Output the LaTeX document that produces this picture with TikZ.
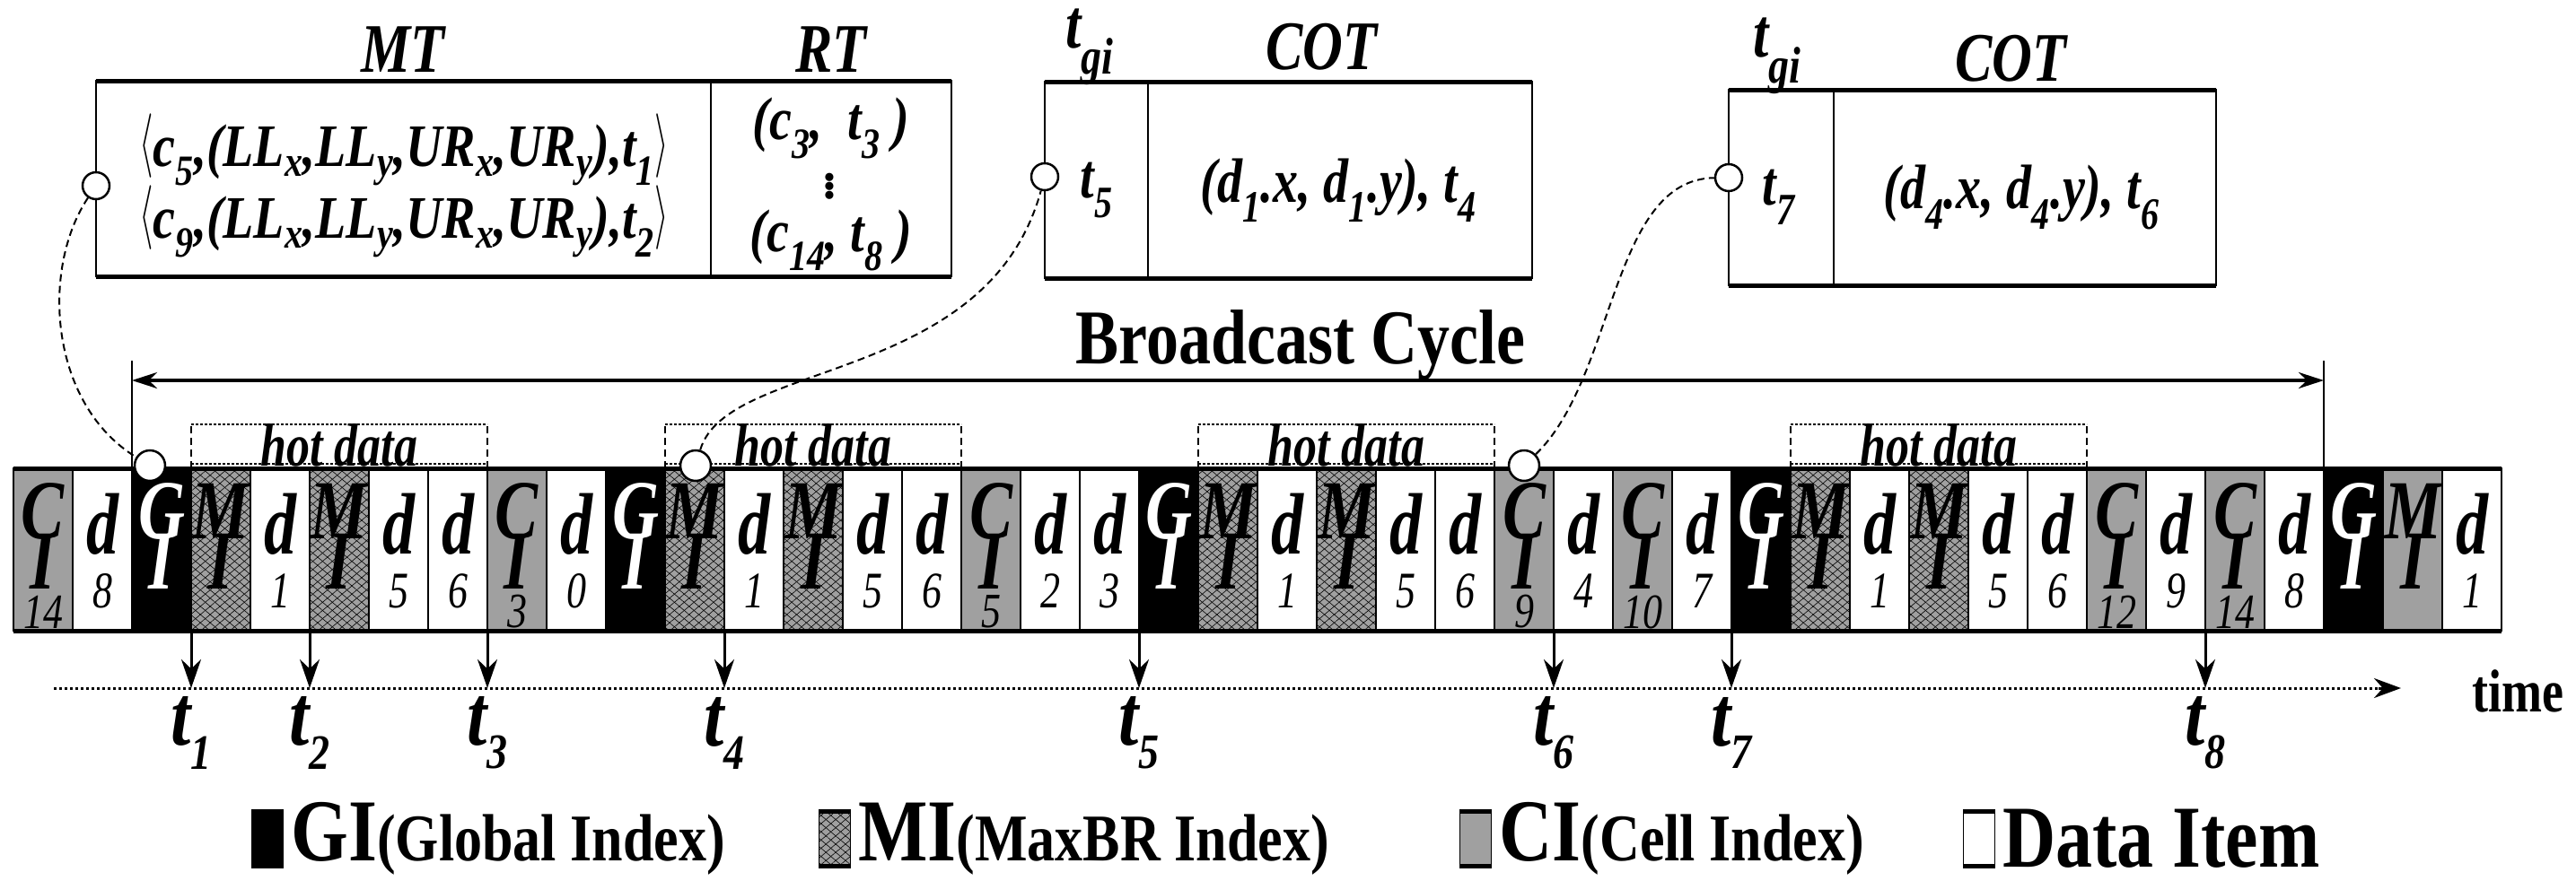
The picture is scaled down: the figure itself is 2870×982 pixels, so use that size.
\documentclass[tikz,border=0pt]{standalone}
\usepackage{fontspec}
\usepackage{graphicx}
\setmainfont{Liberation Serif}
\usetikzlibrary{calc,arrows.meta,patterns.meta}
\newcommand\myfs[1]{\fontsize{#1}{#1}\selectfont}
\newcommand\tall[2]{\scalebox{1}[#1]{#2}}
\definecolor{cigray}{HTML}{A0A0A0}
\tikzset{
 cell/.style={draw, line width=1.5pt, minimum width=66pt, minimum height=181pt, anchor=north west, inner sep=0pt, outer sep=0pt},
 dt/.style={cell, fill=white},
 gi/.style={cell, fill=black},
 ci/.style={cell, fill=cigray},
 mi/.style={cell, fill=cigray, postaction={pattern={Lines[angle=40,distance=7pt,line width=0.6pt]}}, postaction={pattern={Lines[angle=-40,distance=7pt,line width=0.6pt]}}},
 lt/.style={inner sep=0pt, font=\myfs{72}\bfseries\itshape},
 nm/.style={inner sep=0pt, font=\myfs{44}\itshape},
 tbl/.style={draw, line width=2pt, inner sep=0pt, outer sep=0pt},
 hd/.style={inner sep=0pt, font=\myfs{62}\bfseries\itshape},
 tx/.style={inner sep=0pt, font=\myfs{56}\bfseries\itshape},
 pinc/.style={circle, draw, line width=2.5pt, fill=white, minimum size=34pt, inner sep=0pt},
 link/.style={line width=2pt, dash pattern=on 8pt off 5pt},
 tarrow/.style={line width=3pt, -{Stealth[length=32pt,width=22pt]}},
 tl/.style={inner sep=0pt, font=\myfs{80}\bfseries\itshape},
 hot/.style={inner sep=0pt, font=\myfs{52}\bfseries\itshape},
 leg/.style={line width=1.5pt, draw, minimum width=35pt, minimum height=59pt, inner sep=0pt},
}
\newcommand\mkd[2]{\node[dt] (c#1) at ({15+66*(#1-1)},522) {};
 \node[lt] at ($(c#1.north)+(0,62)$) {\tall{1.35}{d}};
 \node[nm] at ($(c#1.north)+(0,137)$) {\tall{1.3}{#2}};}
\newcommand\mki[6]{\node[#2] (c#1) at ({15+66*(#1-1)},522) {};
 \node[lt,text=#6] at ($(c#1.north)+(0,48)$) {\tall{1.3}{#3}};
 \node[lt,text=#6] at ($(c#1.north)+(0,104)$) {\tall{1.3}{#4}};
 \node[nm] at ($(c#1.north)+(0,160)$) {\tall{1.25}{#5}};}
\newcommand\sub[1]{\textsubscript{\myfs{40}#1}}
\newcommand\lang{\raisebox{4pt}{\scalebox{1.6}[2.4]{$\langle$}}}
\newcommand\rang{\raisebox{4pt}{\scalebox{1.6}[2.4]{$\rangle$}}}
\begin{document}
\begin{tikzpicture}[x=1pt,y=-1pt]
\useasboundingbox (0,0) rectangle (2870,982);
% cells
\mki{1}{ci}{C}{I}{14}{black}
\mkd{2}{8}
\mki{3}{gi}{G}{I}{}{white}
\mki{4}{mi}{M}{I}{}{black}
\mkd{5}{1}
\mki{6}{mi}{M}{I}{}{black}
\mkd{7}{5}
\mkd{8}{6}
\mki{9}{ci}{C}{I}{3}{black}
\mkd{10}{0}
\mki{11}{gi}{G}{I}{}{white}
\mki{12}{mi}{M}{I}{}{black}
\mkd{13}{1}
\mki{14}{mi}{M}{I}{}{black}
\mkd{15}{5}
\mkd{16}{6}
\mki{17}{ci}{C}{I}{5}{black}
\mkd{18}{2}
\mkd{19}{3}
\mki{20}{gi}{G}{I}{}{white}
\mki{21}{mi}{M}{I}{}{black}
\mkd{22}{1}
\mki{23}{mi}{M}{I}{}{black}
\mkd{24}{5}
\mkd{25}{6}
\mki{26}{ci}{C}{I}{9}{black}
\mkd{27}{4}
\mki{28}{ci}{C}{I}{10}{black}
\mkd{29}{7}
\mki{30}{gi}{G}{I}{}{white}
\mki{31}{mi}{M}{I}{}{black}
\mkd{32}{1}
\mki{33}{mi}{M}{I}{}{black}
\mkd{34}{5}
\mkd{35}{6}
\mki{36}{ci}{C}{I}{12}{black}
\mkd{37}{9}
\mki{38}{ci}{C}{I}{14}{black}
\mkd{39}{8}
\mki{40}{gi}{G}{I}{}{white}
\mki{41}{ci}{M}{I}{}{black}
\mkd{42}{1}
\draw[line width=5pt] (c1.north west) -- (c42.north east);
\draw[line width=5pt] (c1.south west) -- (c42.south east);
\draw[line width=2.5pt] (c1.north west) -- (c1.south west) (c42.north east) -- (c42.south east);
% hot data boxes
\foreach \a/\b in {4/8,12/16,21/25,31/35}{
 \draw[line width=2pt, dash pattern=on 8pt off 5pt] (c\a.north west) -- ++(0,-49) coordinate (h\a);
 \draw[line width=2pt, dash pattern=on 8pt off 5pt] (c\b.north east) -- ++(0,-49) coordinate (k\b);
 \draw[line width=2.5pt, dash pattern=on 2.5pt off 2.5pt] (h\a) -- (k\b);
 \draw[line width=2.5pt, dash pattern=on 2.5pt off 2.5pt] ($(c\a.north west)+(0,-5)$) -- ($(c\b.north east)+(0,-5)$);
 \node[hot] at ($(h\a)!0.5!(k\b)+(0,23)$) {\tall{1.3}{hot data}};
}
% broadcast cycle
\draw[line width=2pt] (c3.north west) -- ++(0,-120) coordinate (bl);
\draw[line width=2pt] (c40.north west) -- ++(0,-120) coordinate (br);
\draw[line width=3.5pt, {Stealth[length=28pt,width=18pt]}-{Stealth[length=28pt,width=18pt]}] ($(bl)+(0,22)$) -- ($(br)+(0,22)$);
\node[inner sep=0pt, font=\myfs{72}\bfseries] (bc) at (1449,385) {\tall{1.2}{Broadcast Cycle}};
% time axis
\coordinate (ax0) at (60,767);
\coordinate (ax1) at (2675,767);
\draw[line width=3pt, dash pattern=on 3pt off 3pt] (ax0) -- ($(ax1)+(-25,0)$);
\draw[line width=3pt, -{Stealth[length=30pt,width=22pt]}] ($(ax1)+(-25,0)$) -- (ax1);
\node[inner sep=0pt, font=\myfs{54}\bfseries] (time) at (2805,770) {\tall{1.25}{time}};
\foreach \n/\c in {1/c3.south east,2/c6.south west,3/c8.south east,4/c12.south east,5/c19.south east,6/c26.south east,7/c29.south east,8/c37.south east}{
 \coordinate (a\n) at (\c |- ax0);
 \draw[tarrow] (\c) -- (a\n);
 \node[tl] (t\n) at ($(a\n)+(0,50)$) {\tall{1.2}{t\textsubscript{\myfs{46}\itshape\n}}};
}
% MT / RT table
\node[tbl, minimum width=685pt, minimum height=218pt] (mt) at (449.5,199) {};
\node[tbl, minimum width=268pt, minimum height=218pt] (rt) at (926,199) {};
\draw[line width=5pt] (mt.north west) -- (rt.north east) (mt.south west) -- (rt.south east);
\node[hd] at (449,55) {\tall{1.25}{MT}};
\node[hd] at (926,55) {\tall{1.25}{RT}};
\node[tx] at (450,167) {\tall{1.2}{\lang c\sub{5},(LL\sub{x},LL\sub{y},UR\sub{x},UR\sub{y}),t\sub{1}\rang}};
\node[tx] at (450,247) {\tall{1.2}{\lang c\sub{9},(LL\sub{x},LL\sub{y},UR\sub{x},UR\sub{y}),t\sub{2}\rang}};
\node[tx] at (926,143) {\tall{1.2}{(c\sub{3},\ \ t\sub{3} )}};
\node[tx] at (926,205) {$\vdots$};
\node[tx] at (926,268) {\tall{1.2}{(c\sub{14}, t\sub{8} )}};
% COT tables
\node[tbl, minimum width=115pt, minimum height=219pt] (g1) at (1221.5,200.5) {};
\node[tbl, minimum width=428pt, minimum height=219pt] (o1) at (1493,200.5) {};
\draw[line width=5pt] (g1.north west) -- (o1.north east) (g1.south west) -- (o1.south east);
\node[hd] at (1214,52) {\tall{1.25}{t\textsubscript{\myfs{46}gi}}};
\node[hd] at (1472,52) {\tall{1.25}{COT}};
\node[tx] at (1222,212) {\tall{1.25}{t\sub{5}}};
\node[tx] at (1491,212) {\tall{1.25}{(d\sub{1}.x, d\sub{1}.y), t\sub{4}}};
\node[tbl, minimum width=117pt, minimum height=218pt] (g2) at (1984.5,209) {};
\node[tbl, minimum width=426pt, minimum height=218pt] (o2) at (2256,209) {};
\draw[line width=5pt] (g2.north west) -- (o2.north east) (g2.south west) -- (o2.south east);
\node[hd] at (1980,62) {\tall{1.25}{t\textsubscript{\myfs{46}gi}}};
\node[hd] at (2240,65) {\tall{1.25}{COT}};
\node[tx] at (1982,220) {\tall{1.25}{t\sub{7}}};
\node[tx] at (2252,220) {\tall{1.25}{(d\sub{4}.x, d\sub{4}.y), t\sub{6}}};
% link circles
\node[pinc] (p1) at (167,519) {};
\node[pinc] (p2) at (775,519) {};
\node[pinc] (p3) at (1698,519) {};
\node[pinc, minimum size=30pt] (q1) at (107,207) {};
\node[pinc, minimum size=30pt] (q2) at (1164,197) {};
\node[pinc, minimum size=30pt] (q3) at (1926,198) {};
\draw[link] (q1) .. controls (45,300) and (55,450) .. (p1);
\draw[link] (p2) .. controls (810,400) and (1100,430) .. (q2);
\draw[link] (p3) .. controls (1800,420) and (1795,200) .. (q3);
% legend
\node[leg, fill=black] (l1) at (298,935) {};
\node[leg, fill=cigray, postaction={pattern={Lines[angle=40,distance=7pt,line width=0.6pt]}}, postaction={pattern={Lines[angle=-40,distance=7pt,line width=0.6pt]}}] (l2) at (930,935) {};
\node[leg, fill=cigray] (l3) at (1644,935) {};
\node[leg, fill=white] (l4) at (2205,935) {};
\foreach \l in {l1,l2,l3,l4}{\draw[line width=5pt] (\l.north west) -- (\l.north east) (\l.south west) -- (\l.south east);}
\node[anchor=west, inner sep=0pt, font=\bfseries] at ($(l1.east)+(8,0)$) {\tall{1.2}{\myfs{82}GI\myfs{62}(Global Index)}};
\node[anchor=west, inner sep=0pt, font=\bfseries] at ($(l2.east)+(8,0)$) {\tall{1.2}{\myfs{82}MI\myfs{62}(MaxBR Index)}};
\node[anchor=west, inner sep=0pt, font=\bfseries] at ($(l3.east)+(8,0)$) {\tall{1.2}{\myfs{82}CI\myfs{62}(Cell Index)}};
\node[anchor=west, inner sep=0pt, font=\bfseries] at ($(l4.east)+(8,0)$) {\tall{1.2}{\myfs{82}Data Item}};
\end{tikzpicture}
\end{document}
